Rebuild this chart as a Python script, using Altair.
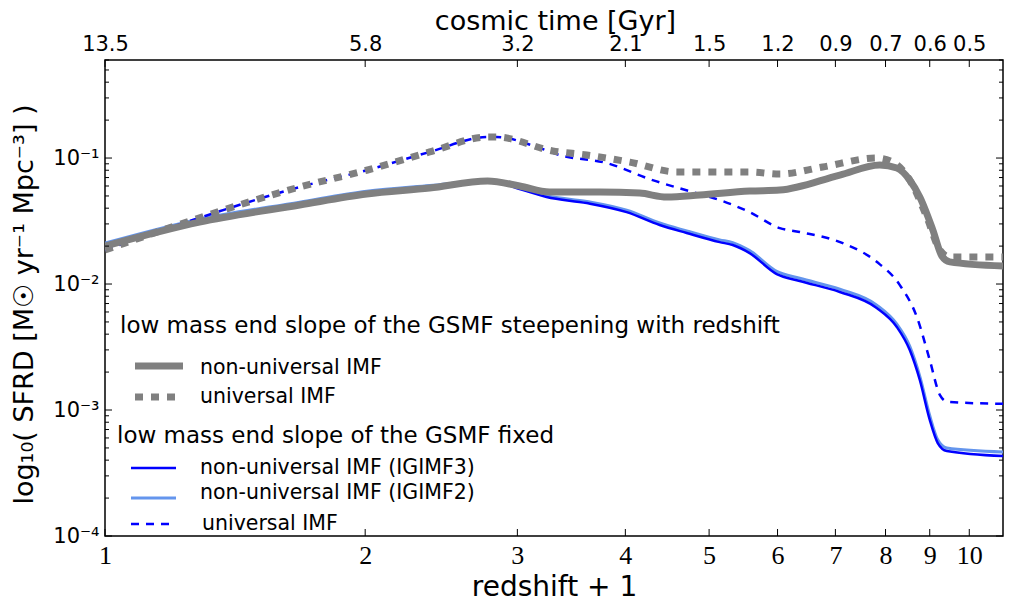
import altair as alt
import pandas as pd

# ---------------- data ----------------
# x = redshift + 1, y = SFRD [Msun / yr / Mpc^3]

# low mass end slope steepening with redshift, non-universal IMF (grey solid)
ZP1_STEEP_NONUNI = [1.0, 1.286, 1.680, 2.008, 2.375, 2.771, 3.018, 3.269, 3.736, 4.155, 4.466,
                    4.876, 5.570, 6.036, 7.083, 7.878, 8.245, 8.534, 8.765, 9.074, 9.295, 9.494, 10.94]
SFRD_STEEP_NONUNI = [0.0200, 0.0310, 0.0424, 0.0518, 0.0578, 0.0657, 0.0600, 0.0537, 0.0537, 0.0527, 0.0490,
                     0.0508, 0.0547, 0.0557, 0.0733, 0.0879, 0.0834, 0.0668, 0.0490, 0.0269, 0.0167, 0.0150, 0.0139]

# low mass end slope steepening with redshift, universal IMF (grey dotted)
ZP1_STEEP_UNI = [1.0, 1.263, 1.680, 2.008, 2.375, 2.771, 2.838, 3.296, 3.609, 4.047, 4.587,
                 5.570, 6.036, 6.767, 7.815, 8.155, 8.534, 8.930, 9.245, 9.494, 10.94]
SFRD_STEEP_UNI = [0.0186, 0.0322, 0.0589, 0.0800, 0.1117, 0.1469, 0.1469, 0.1138, 0.1057, 0.0929, 0.0775,
                  0.0775, 0.0746, 0.0850, 0.1000, 0.0929, 0.0668, 0.0340, 0.0186, 0.0164, 0.0164]

# low mass end slope fixed, universal IMF (blue dashed)
ZP1_FIX_UNI = [1.0, 1.263, 1.680, 2.008, 2.375, 2.771, 2.838, 3.184, 3.357, 3.806, 4.301, 4.786,
               5.143, 5.570, 6.036, 6.365, 7.139, 7.815, 8.311, 8.697, 9.001, 9.245, 9.443, 10.94]
SFRD_FIX_UNI = [0.0186, 0.0322, 0.0589, 0.0800, 0.1117, 0.1469, 0.1469, 0.1200, 0.1057, 0.0912, 0.0668, 0.0537,
                0.0464, 0.0372, 0.0278, 0.0259, 0.0211, 0.0150, 0.0098, 0.00547, 0.00249, 0.00132, 0.00116, 0.00112]

# low mass end slope fixed, non-universal IMF (IGIMF3, blue)
ZP1_FIX_IG3 = [1.0, 1.286, 1.680, 2.008, 2.375, 2.771, 2.838, 3.018, 3.243, 3.609, 4.014, 4.383, 4.710,
               5.143, 5.325, 5.570, 5.987, 6.365, 7.083, 7.815, 8.245, 8.534, 8.765, 9.001, 9.194, 9.419, 10.94]
SFRD_FIX_IG3 = [0.0200, 0.0310, 0.0424, 0.0518, 0.0578, 0.0650, 0.0646, 0.0568, 0.0490, 0.0439, 0.0372, 0.0294, 0.0254,
                0.0215, 0.0204, 0.0176, 0.0120, 0.01057, 0.00865, 0.00646, 0.00456, 0.00299, 0.00173, 0.000834,
                0.000547, 0.000473, 0.000431]

# low mass end slope fixed, non-universal IMF (IGIMF2, light blue)
ZP1_FIX_IG2 = [1.0, 1.286, 1.680, 2.008, 2.375, 2.771, 2.838, 3.018, 3.243, 3.609, 4.014, 4.383, 4.710,
               5.143, 5.325, 5.570, 5.987, 6.365, 7.083, 7.815, 8.245, 8.534, 8.765, 9.001, 9.194, 9.419, 10.94]
SFRD_FIX_IG2 = [0.0211, 0.0327, 0.0446, 0.0545, 0.0605, 0.0660, 0.0658, 0.0582, 0.0503, 0.0452, 0.0385, 0.0305, 0.0264,
                0.0224, 0.0213, 0.0184, 0.0126, 0.0111, 0.0091, 0.0068, 0.0048, 0.0032, 0.00185, 0.00090,
                0.00058, 0.000500, 0.000465]

# axes
X_TICKS = [1, 2, 3, 4, 5, 6, 7, 8, 9, 10]
TOP_LABELS = ["13.5", "5.8", "3.2", "2.1", "1.5", "1.2", "0.9", "0.7", "0.6", "0.5"]
Y_MAJOR = [1e-4, 1e-3, 1e-2, 1e-1]
Y_LABELS = ["10⁻⁴", "10⁻³", "10⁻²", "10⁻¹"]
Y_MINOR = [2e-4, 3e-4, 4e-4, 5e-4, 6e-4, 7e-4, 8e-4, 9e-4,
           2e-3, 3e-3, 4e-3, 5e-3, 6e-3, 7e-3, 8e-3, 9e-3,
           2e-2, 3e-2, 4e-2, 5e-2, 6e-2, 7e-2, 8e-2, 9e-2,
           2e-1, 3e-1, 4e-1, 5e-1, 6e-1]
X_DOMAIN = [1, 10.94]
Y_DOMAIN = [1e-4, 0.6]

X_TITLE = "redshift + 1"
TOP_TITLE = "cosmic time [Gyr]"
Y_TITLE = "log₁₀( SFRD [M☉ yr⁻¹ Mpc⁻³] )"

LEGEND_TITLES = ["low mass end slope of the GSMF steepening with redshift",
                 "low mass end slope of the GSMF fixed"]
LEGEND_LABELS = ["non-universal IMF", "universal IMF",
                 "non-universal IMF (IGIMF3)", "non-universal IMF (IGIMF2)", "universal IMF"]

# ---------------- chart ----------------
W, H = 898, 476
GREY = "#808080"
BLUE = "#0000ff"
LBLUE = "#6495ed"
FONT = "DejaVu Sans"

xs = alt.Scale(type="log", domain=X_DOMAIN, nice=False, zero=False)
ys = alt.Scale(type="log", domain=Y_DOMAIN, nice=False, zero=False)


def line(x, y, color, width, dash=None):
    kw = dict(color=color, strokeWidth=width, clip=True, interpolate="monotone", strokeCap="butt")
    if dash:
        kw["strokeDash"] = dash
    df = pd.DataFrame({"zp1": x, "sfrd": y})
    return alt.Chart(df).mark_line(**kw).encode(
        x=alt.X("zp1:Q", scale=xs, axis=None),
        y=alt.Y("sfrd:Q", scale=ys, axis=None),
        order=alt.Order("zp1:Q"),
    )


lines = [
    line(ZP1_FIX_IG2, SFRD_FIX_IG2, LBLUE, 3),
    line(ZP1_FIX_IG3, SFRD_FIX_IG3, BLUE, 2.5),
    line(ZP1_FIX_UNI, SFRD_FIX_UNI, BLUE, 2.5, [8, 7]),
    line(ZP1_STEEP_NONUNI, SFRD_STEEP_NONUNI, GREY, 7),
    line(ZP1_STEEP_UNI, SFRD_STEEP_UNI, GREY, 7, [8, 8]),
]

xdf = pd.DataFrame({"v": X_TICKS})
ymaj = pd.DataFrame({"v": Y_MAJOR})
ymin = pd.DataFrame({"v": Y_MINOR})

common_axis = dict(ticks=False, tickSize=0, domain=False, grid=False, labelColor="black",
                   titleColor="black", titleFont=FONT, titleFontWeight="normal",
                   labelOverlap=False, labelFlush=False)

bottom_axis = alt.Axis(orient="bottom", values=X_TICKS, format="d",
                       labelFont="Liberation Serif", labelFontSize=26, labelPadding=27,
                       labelBaseline="alphabetic",
                       title=X_TITLE, titleFontSize=28, titleBaseline="alphabetic",
                       titleX=W / 2, titleY=59, **common_axis)
top_axis = alt.Axis(orient="top", values=X_TICKS,
                    labelExpr="[" + ",".join("'%s'" % s for s in TOP_LABELS) + "][round(datum.value) - 1]",
                    labelFont=FONT, labelFontSize=21, labelPadding=10, labelBaseline="alphabetic",
                    title=TOP_TITLE, titleFontSize=27, titleBaseline="alphabetic",
                    titleX=450, titleY=-31, **common_axis)
left_axis = alt.Axis(orient="left", values=Y_MAJOR,
                     labelExpr="[" + ",".join("'%s'" % s for s in Y_LABELS) + "][round(log(datum.value) / LN10) + 4]",
                     labelFont=FONT, labelFontSize=21, labelPadding=6,
                     title=Y_TITLE, titleFontSize=27, titleBaseline="alphabetic",
                     titleX=-73, titleY=244, **common_axis)

tick_bottom = alt.Chart(xdf).mark_rule(color="black", strokeWidth=1).encode(
    x=alt.X("v:Q", scale=xs, axis=bottom_axis), y=alt.value(H), y2=alt.value(H - 7))
tick_top = alt.Chart(xdf).mark_rule(color="black", strokeWidth=1).encode(
    x=alt.X("v:Q", scale=xs, axis=top_axis), y=alt.value(0), y2=alt.value(7))
tick_left = alt.Chart(ymaj).mark_rule(color="black", strokeWidth=1).encode(
    y=alt.Y("v:Q", scale=ys, axis=left_axis), x=alt.value(0), x2=alt.value(7))
tick_left_min = alt.Chart(ymin).mark_rule(color="black", strokeWidth=1).encode(
    y=alt.Y("v:Q", scale=ys, axis=None), x=alt.value(0), x2=alt.value(4))
tick_right = alt.Chart(ymaj).mark_rule(color="black", strokeWidth=1).encode(
    y=alt.Y("v:Q", scale=ys, axis=None), x=alt.value(W), x2=alt.value(W - 7))
tick_right_min = alt.Chart(ymin).mark_rule(color="black", strokeWidth=1).encode(
    y=alt.Y("v:Q", scale=ys, axis=None), x=alt.value(W), x2=alt.value(W - 4))


def legend_text(txt, x, y, size):
    return alt.Chart(pd.DataFrame({"t": [txt]})).mark_text(
        align="left", baseline="alphabetic", font=FONT, fontSize=size, color="black"
    ).encode(x=alt.value(x), y=alt.value(y), text="t:N")


def legend_line(x1, x2, y, color, width, dash=None):
    kw = dict(color=color, strokeWidth=width, strokeCap="butt")
    if dash:
        kw["strokeDash"] = dash
    return alt.Chart(pd.DataFrame({"a": [0]})).mark_rule(**kw).encode(
        x=alt.value(x1), x2=alt.value(x2), y=alt.value(y))


legend = [
    legend_text(LEGEND_TITLES[0], 15, 273, 23),
    legend_line(30, 78, 306, GREY, 7),
    legend_text(LEGEND_LABELS[0], 95, 314, 20.5),
    legend_line(30, 76, 337, GREY, 7, [8, 8]),
    legend_text(LEGEND_LABELS[1], 95, 343, 20.5),
    legend_text(LEGEND_TITLES[1], 12, 383, 23),
    legend_line(26, 71, 408, BLUE, 2.5),
    legend_text(LEGEND_LABELS[2], 95, 414, 20.5),
    legend_line(26, 71, 438, LBLUE, 3),
    legend_text(LEGEND_LABELS[3], 95, 439, 20.5),
    legend_line(26, 71, 464, BLUE, 2.5, [8, 7]),
    legend_text(LEGEND_LABELS[4], 97, 470, 20.5),
]

chart = alt.layer(
    *lines, tick_bottom, tick_top, tick_left, tick_left_min, tick_right, tick_right_min, *legend
).resolve_axis(x="independent", y="independent").properties(
    width=W, height=H,
    padding={"left": 97, "top": 52, "right": 15, "bottom": 64},
    autosize=alt.AutoSizeParams(type="none"),
    background="white",
).configure(font=FONT).configure_view(stroke="black", strokeWidth=1.5)

chart.save("out.html", embed_options={"renderer": "svg", "actions": False})
